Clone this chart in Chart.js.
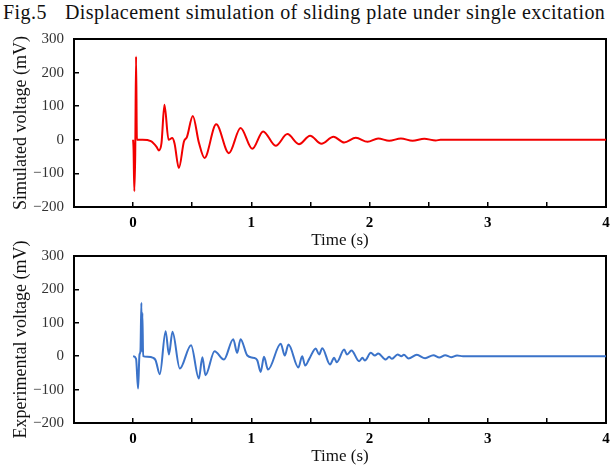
<!DOCTYPE html>
<html>
<head>
<meta charset="utf-8">
<script src="https://cdn.jsdelivr.net/npm/chart.js@4.4.1/dist/chart.umd.min.js"></script>
<style>
  body { margin: 0; background: #fff; width: 613px; height: 469px; overflow: hidden; position: relative; }
  #title { position: absolute; left: 3px; top: 1px; font-family: "Liberation Serif", serif; font-size: 20px; letter-spacing: 0.45px; color: #111; white-space: nowrap; }
  #title span { margin-left: 18px; }
  canvas { position: absolute; left: 0; }
  #simChart { top: 28px; }
  #expChart { top: 236px; }
</style>
</head>
<body>
<div id="title">Fig.5<span>Displacement simulation of sliding plate under single excitation</span></div>
<canvas id="simChart" width="613" height="225"></canvas>
<canvas id="expChart" width="613" height="233"></canvas>
<script>
// Simulated voltage (red)
const simTime = [0, 0.004, 0.01, 0.018, 0.025, 0.032, 0.08, 0.15, 0.2, 0.217, 0.24, 0.265, 0.3, 0.33, 0.35, 0.387, 0.43, 0.455, 0.505, 0.556, 0.604,
  0.703, 0.81, 0.909, 1.008, 1.10, 1.206, 1.305, 1.403, 1.497, 1.593, 1.695, 1.785, 1.884, 1.983, 2.073, 2.166, 2.265, 2.364, 2.463, 2.56, 2.6, 4];
const simVolt = [0, -30, -153, -40, 248, 0, 0, -4, -22, -32, -10, 104, 0, 5, -10, -84, -5, 8, 71, -8, -54,
  46, -40, 35, -27, 25, -18, 17, -13, 12, -12, 9, -8, 6, -6, 4, -3, 4, -3, 3, -2, 0, 0];

// Experimental voltage (blue)
const expTime = [0, 0.025, 0.042, 0.054, 0.062, 0.07, 0.074, 0.078, 0.085, 0.12, 0.17, 0.19, 0.226, 0.275, 0.303, 0.333, 0.395, 0.49, 0.556, 0.586, 0.612,
  0.689, 0.768, 0.847, 0.88, 0.909, 0.966, 1.02, 1.05, 1.079, 1.107, 1.141, 1.249, 1.283, 1.314, 1.398, 1.43, 1.455, 1.49,
  1.545, 1.573, 1.60, 1.666, 1.70, 1.723, 1.785, 1.81, 1.847, 1.912, 1.94, 1.96, 2.011, 2.045, 2.073, 2.138, 2.165, 2.19,
  2.237, 2.27, 2.29, 2.33, 2.40, 2.47, 2.54, 2.59, 2.64, 2.69, 2.74, 2.79, 4];
const expVolt = [0, -8, -97, 5, 15, 160, 15, 130, 0, -2, -5, -12, -54, 75, 5, 73, -37, 33, -67, -3, -57,
  15, -10, 51, 10, 51, 2, -5, -12, -47, -2, -40, 37, 2, 35, -34, 0, -28, -8,
  23, 5, 24, -25, -5, -18, 20, 5, 17, -15, -5, -13, 10, 2, 8, -10, -2, -8,
  5, 0, 4, -7, 4, -6, 3, -4, 3, -3, 2, 0, 0];

const xTicks = [0, 1, 2, 3, 4];
const yTicks = [-200, -100, 0, 100, 200, 300];

const serif = '"Liberation Serif", "Times New Roman", serif';

// no extra label overflow padding, the plot box is placed by layout padding only
function noPad(s) { s.paddingLeft = 0; s.paddingRight = 0; s.paddingTop = 0; s.paddingBottom = 0; }

function makeChart(id, times, volts, color, yTitle, topPad) {
  const ctx = document.getElementById(id).getContext('2d');
  return new Chart(ctx, {
    type: 'line',
    data: {
      datasets: [{
        data: times.map((t, i) => ({ x: t, y: volts[i] })),
        borderColor: color,
        borderWidth: 2,
        pointRadius: 0,
        cubicInterpolationMode: 'monotone',
        fill: false
      }]
    },
    options: {
      responsive: false,
      animation: false,
      devicePixelRatio: 1,
      layout: { padding: { top: topPad, right: 7, left: 0, bottom: 0 } },
      plugins: { legend: { display: false }, tooltip: { enabled: false } },
      scales: {
        x: {
          type: 'linear', position: 'bottom', min: -0.5, max: 4,
          afterFit: s => { s.height = 46; noPad(s); },
          ticks: {
            stepSize: 0.5, padding: 12, color: '#000',
            font: { family: serif, size: 15, weight: 'bold' },
            maxRotation: 0, autoSkip: false,
            callback: v => xTicks.includes(v) ? String(v) : ''
          },
          grid: { drawOnChartArea: false, tickLength: -5, color: '#000', lineWidth: 1.5 },
          border: { color: '#000', width: 2 },
          title: { display: true, text: 'Time (s)', color: '#111', font: { family: serif, size: 17 }, padding: { top: 0, bottom: 2 } }
        },
        y: {
          min: -200, max: 300,
          afterFit: s => { s.width = 74; noPad(s); },
          afterBuildTicks: s => { s.ticks = yTicks.map(v => ({ value: v })); },
          ticks: {
            padding: 15, color: '#333',
            font: { family: serif, size: 15 },
            callback: v => String(v).replace('-', '\u2212')
          },
          grid: { drawOnChartArea: false, tickLength: -5, color: '#000', lineWidth: 1.5 },
          border: { color: '#000', width: 2 },
          title: { display: true, text: yTitle, color: '#111', font: { family: serif, size: 18 }, padding: { top: 10, bottom: 0 } }
        },
        xTop: {
          type: 'linear', position: 'top', min: -0.5, max: 4,
          afterFit: s => { s.height = 0; noPad(s); },
          ticks: { display: false }, grid: { display: false },
          border: { color: '#000', width: 2 }
        },
        yRight: {
          position: 'right', min: -200, max: 300,
          afterFit: s => { s.width = 0; noPad(s); },
          ticks: { display: false }, grid: { display: false },
          border: { color: '#000', width: 2 }
        }
      }
    }
  });
}

makeChart('simChart', simTime, simVolt, '#f20000', 'Simulated voltage (mV)', 11);
makeChart('expChart', expTime, expVolt, '#3b73c9', 'Experimental voltage (mV)', 20);
</script>
</body>
</html>
